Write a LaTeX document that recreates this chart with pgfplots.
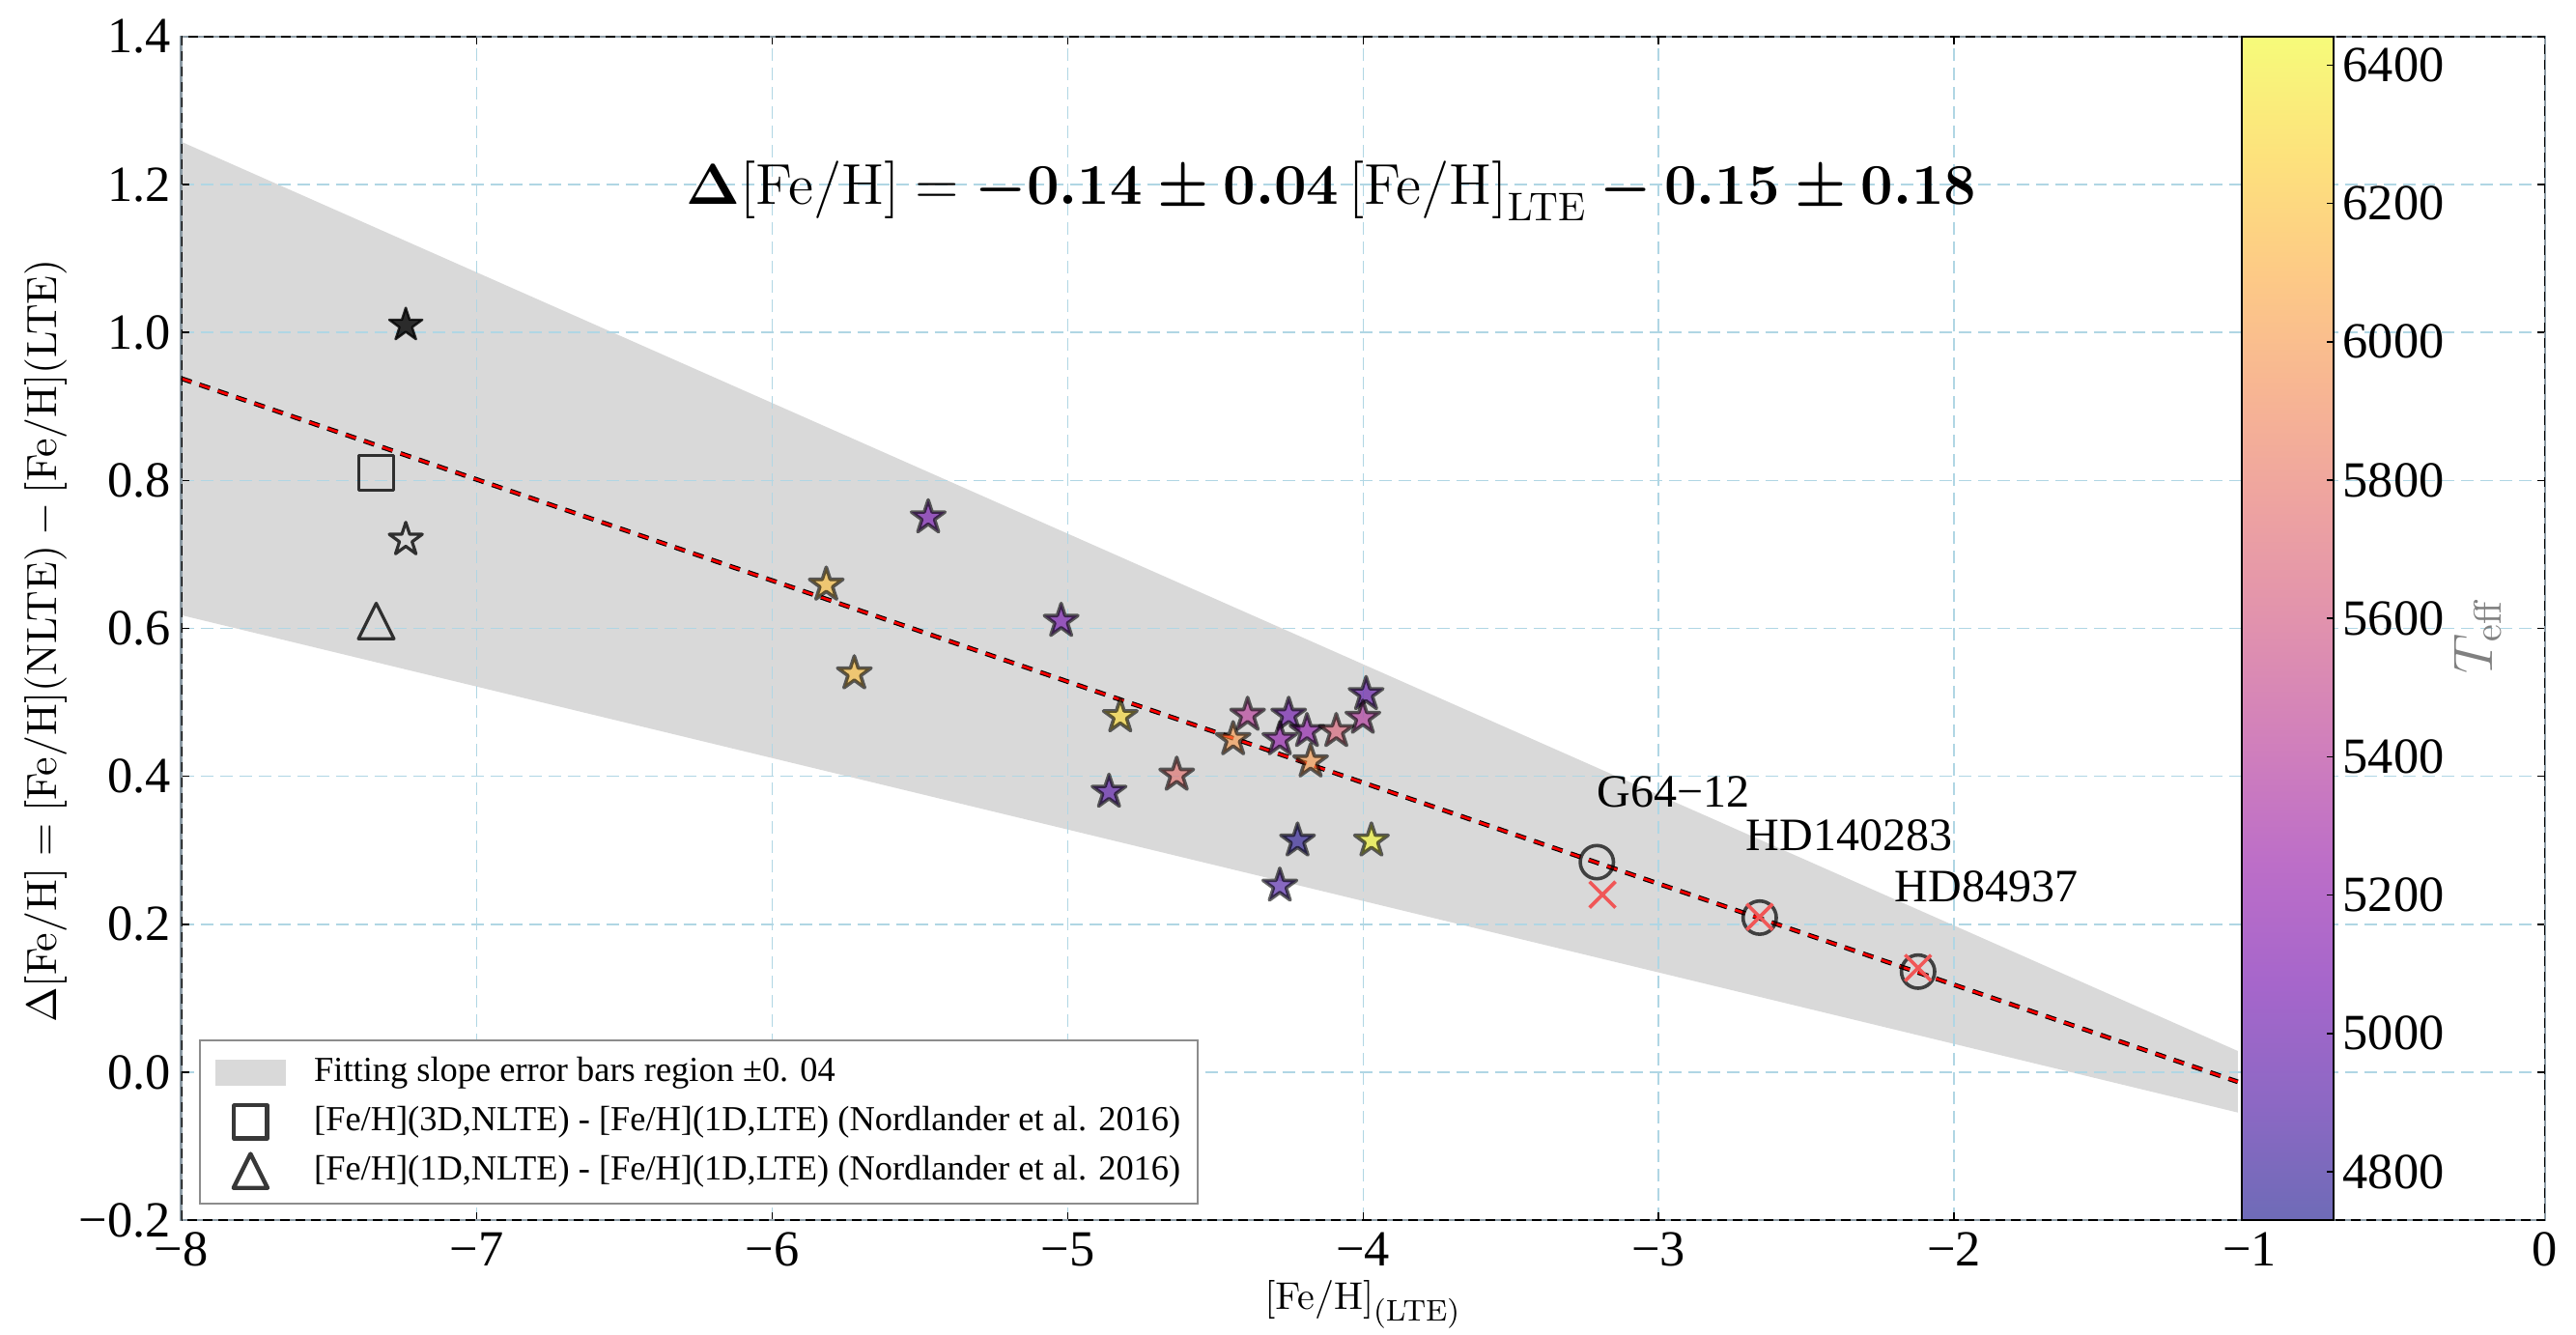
\documentclass[border=0pt]{standalone}
\usepackage{amsmath}
\usepackage{graphicx}
\usepackage[no-math]{fontspec}
\newfontfamily\tnr{Liberation Serif}
\usepackage{pgfplots}
\usepackage{pgfplotstable}
\pgfplotsset{compat=1.18}

\definecolor{bandgray}{RGB}{217,217,217}
\definecolor{gridblue}{RGB}{176,214,228}
\definecolor{framegray}{RGB}{140,155,165}
\definecolor{crossred}{RGB}{240,87,87}

\newcommand\tickfont{\tnr\fontsize{13.1}{16}\selectfont}

% filled and open five-pointed stars, and an upward triangle
\pgfdeclareplotmark{fstar}{%
  \pgfpathmoveto{\pgfqpointpolar{90}{\pgfplotmarksize}}%
  \pgfpathlineto{\pgfqpointpolar{126}{0.382\pgfplotmarksize}}%
  \pgfpathlineto{\pgfqpointpolar{162}{\pgfplotmarksize}}%
  \pgfpathlineto{\pgfqpointpolar{198}{0.382\pgfplotmarksize}}%
  \pgfpathlineto{\pgfqpointpolar{234}{\pgfplotmarksize}}%
  \pgfpathlineto{\pgfqpointpolar{270}{0.382\pgfplotmarksize}}%
  \pgfpathlineto{\pgfqpointpolar{306}{\pgfplotmarksize}}%
  \pgfpathlineto{\pgfqpointpolar{342}{0.382\pgfplotmarksize}}%
  \pgfpathlineto{\pgfqpointpolar{18}{\pgfplotmarksize}}%
  \pgfpathlineto{\pgfqpointpolar{54}{0.382\pgfplotmarksize}}%
  \pgfpathclose
  \pgfusepathqfillstroke}
\pgfdeclareplotmark{ostar}{%
  \pgfpathmoveto{\pgfqpointpolar{90}{\pgfplotmarksize}}%
  \pgfpathlineto{\pgfqpointpolar{126}{0.382\pgfplotmarksize}}%
  \pgfpathlineto{\pgfqpointpolar{162}{\pgfplotmarksize}}%
  \pgfpathlineto{\pgfqpointpolar{198}{0.382\pgfplotmarksize}}%
  \pgfpathlineto{\pgfqpointpolar{234}{\pgfplotmarksize}}%
  \pgfpathlineto{\pgfqpointpolar{270}{0.382\pgfplotmarksize}}%
  \pgfpathlineto{\pgfqpointpolar{306}{\pgfplotmarksize}}%
  \pgfpathlineto{\pgfqpointpolar{342}{0.382\pgfplotmarksize}}%
  \pgfpathlineto{\pgfqpointpolar{18}{\pgfplotmarksize}}%
  \pgfpathlineto{\pgfqpointpolar{54}{0.382\pgfplotmarksize}}%
  \pgfpathclose
  \pgfusepathqstroke}
\pgfdeclareplotmark{mtri}{%
  \pgfpathmoveto{\pgfqpoint{0pt}{\pgfplotmarksize}}%
  \pgfpathlineto{\pgfqpoint{-\pgfplotmarksize}{-\pgfplotmarksize}}%
  \pgfpathlineto{\pgfqpoint{\pgfplotmarksize}{-\pgfplotmarksize}}%
  \pgfpathclose
  \pgfusepathqstroke}

\pgfplotsset{
  colormap={plasma}{rgb255=(13,8,135) rgb255=(65,4,157) rgb255=(106,0,168)
    rgb255=(143,13,164) rgb255=(177,42,144) rgb255=(204,71,120) rgb255=(225,100,98)
    rgb255=(242,132,75) rgb255=(252,166,54) rgb255=(252,206,37) rgb255=(240,249,33)},
  colormap={plasmalight}{rgb255=(110,107,183) rgb255=(141,104,196) rgb255=(166,102,203)
    rgb255=(188,110,200) rgb255=(208,127,188) rgb255=(224,145,174) rgb255=(237,162,161)
    rgb255=(247,181,147) rgb255=(253,202,134) rgb255=(253,226,124) rgb255=(246,251,122)},
}

% stars: [Fe/H]_LTE, Delta[Fe/H], Teff
\pgfplotstableread{
x      y      T
-5.472 0.750  5070
-5.817 0.659  6185
-5.722 0.539  6185
-5.022 0.610  5070
-4.822 0.481  6305
-4.860 0.379  4935
-4.631 0.402  5760
-4.391 0.483  5415
-4.440 0.450  6010
-4.252 0.483  5040
-4.282 0.450  5210
-4.190 0.461  5210
-4.178 0.420  6010
-4.091 0.461  5670
-3.990 0.511  4990
-4.001 0.479  5380
-4.222 0.313  4765
-4.282 0.252  4870
-3.972 0.313  6430
}\starsdata

\begin{document}
\begin{tikzpicture}
\begin{axis}[
  set layers,
  at={(0,0)}, anchor=south west,
  scale only axis, width=611.8pt, height=306.25pt,
  xmin=-8, xmax=0, ymin=-0.2, ymax=1.4,
  xtick={-8,-7,-6,-5,-4,-3,-2,-1,0},
  xticklabels={−8,−7,−6,−5,−4,−3,−2,−1,0},
  ytick={-0.2,0,0.2,0.4,0.6,0.8,1.0,1.2,1.4},
  yticklabels={−0.2,0.0,0.2,0.4,0.6,0.8,1.0,1.2,1.4},
  tick label style={font=\tickfont},
  xticklabel style={inner sep=0pt, yshift=-3pt},
  yticklabel style={inner sep=0pt, xshift=-2.5pt},
  tick align=inside, major tick length=2pt,
  tick style={black, line width=0.4pt},
  axis line style={framegray, line width=0.6pt},
  grid=major,
  major grid style={gridblue, line width=0.4pt, dash pattern=on 3.3pt off 1.7pt},
  xlabel={$\mathrm{[Fe/H]}_{\mbox{\fontsize{7.7}{9}\selectfont(LTE)}}$},
  xlabel style={at={(axis description cs:0.5,-0.0505)}, anchor=north, inner sep=0pt,
    font=\fontsize{10}{12}\selectfont},
  ylabel={$\Delta\mathrm{[Fe/H]} = \mathrm{[Fe/H](NLTE)} - \mathrm{[Fe/H](LTE)}$},
  ylabel style={at={(axis description cs:-0.0481,0.4895)}, anchor=south, inner sep=0pt,
    font=\fontsize{10.8}{13}\selectfont},
  colormap name=plasma,
  point meta min=4730, point meta max=6441,
  colorbar,
  colorbar/width=23.75pt,
  colorbar style={
    colormap name=plasmalight,
    at={(parent axis.north east)}, anchor=north east, xshift=-63.25pt,
    ytick={4800,5000,5200,5400,5600,5800,6000,6200,6400},
    yticklabels={4800,5000,5200,5400,5600,5800,6000,6200,6400},
    yticklabel style={font=\tickfont, inner sep=0pt, xshift=2.2pt},
    ytick pos=right, yticklabel pos=right,
    tick align=inside, major tick length=1.75pt,
    tick style={black, line width=0.4pt},
    axis line style={black, line width=0.6pt},
    ylabel={$T_{\mathrm{eff}}$},
    ylabel style={at={(rel axis cs:2.568,0.494)}, anchor=center, inner sep=0pt,
      text=black!50, font=\fontsize{14}{16}\selectfont},
  },
  legend style={at={(axis description cs:0.0075,0.0135)}, anchor=south west,
    draw=black!45, line width=0.5pt, fill=white,
    font=\tnr\fontsize{9.1}{11}\selectfont,
    inner xsep=3pt, inner ysep=2pt,
    nodes={inner sep=1.5pt, text height=0.72em, text depth=0.25em}},
  legend cell align=left,
]

% slope uncertainty band around the fit
\addplot[fill=bandgray, draw=none, on layer=axis background,
  legend image code/.code={
    \fill[bandgray] (0.5pt,-3.35pt) rectangle (18.9pt,3.35pt);
    \path (0pt,0pt) (24.25pt,0pt);}]
  coordinates {(-8,1.258) (-1.04,0.0287) (-1.04,-0.0545) (-8,0.618)};
\addlegendentry{Fitting slope error bars region ±0. 04}

% Nordlander et al. (2016) values for the most iron-poor star
\addplot[only marks, mark=square, mark size=4.5pt, line width=0.8pt,
  mark options={draw=black, draw opacity=0.78, line join=round},
  legend image code/.code={
    \draw[black, line width=1.1pt, line join=round] plot[mark=square, mark size=4.3pt]
      coordinates {(9.7pt,0pt)};
    \path (0pt,0pt) (24.25pt,0pt);}]
  coordinates {(-7.340,0.810)};
\addlegendentry{[Fe/H](3D,NLTE) - [Fe/H](1D,LTE) (Nordlander et al. 2016)}

\addplot[only marks, mark=mtri, mark size=4.6pt, line width=0.8pt,
  mark options={draw=black, draw opacity=0.78, line join=round},
  legend image code/.code={
    \draw[black, line width=1.1pt, line join=round] plot[mark=mtri, mark size=4.4pt]
      coordinates {(9.7pt,0pt)};
    \path (0pt,0pt) (24.25pt,0pt);}]
  coordinates {(-7.340,0.610)};
\addlegendentry{[Fe/H](1D,NLTE) - [Fe/H](1D,LTE) (Nordlander et al. 2016)}

\addplot[forget plot, only marks, mark=fstar, mark size=4.5pt, line width=0.6pt,
  mark options={draw=black, fill=black, opacity=0.8, line join=round}]
  coordinates {(-7.240,1.010)};
\addplot[forget plot, only marks, mark=ostar, mark size=4.5pt, line width=0.8pt,
  mark options={draw=black, draw opacity=0.78, line join=round}]
  coordinates {(-7.240,0.720)};

% stars coloured by effective temperature
\addplot[forget plot, scatter, only marks, mark=fstar, mark size=4.55pt, line width=0.9pt,
  point meta=explicit,
  scatter/use mapped color={draw=black, draw opacity=0.6, fill=mapped color, fill opacity=0.6},
  mark options={line join=round}]
  table[x=x, y=y, meta=T] {\starsdata};

% benchmark stars
\addplot[forget plot, only marks, mark=o, mark size=4.3pt, line width=0.9pt,
  mark options={draw=black, draw opacity=0.7}]
  coordinates {(-3.209,0.284) (-2.658,0.209) (-2.122,0.136)};
\addplot[forget plot, only marks, mark=x, mark size=4.75pt, line width=0.9pt,
  mark options={draw=crossred}]
  coordinates {(-3.190,0.240) (-2.658,0.210) (-2.122,0.141)};

% linear fit
\addplot[forget plot, black, line width=1.2pt, dash pattern=on 2.8pt off 2.2pt]
  coordinates {(-8,0.938) (-1.04,-0.013)};
\addplot[forget plot, red, line width=0.65pt, dash pattern=on 2.8pt off 2.2pt]
  coordinates {(-8,0.938) (-1.04,-0.013)};

\node[anchor=base, font=\tnr\fontsize{12}{14}\selectfont] at (axis cs:-2.950,0.359) {G64−12};
\node[anchor=base, font=\tnr\fontsize{12}{14}\selectfont] at (axis cs:-2.355,0.300) {HD140283};
\node[anchor=base, font=\tnr\fontsize{12}{14}\selectfont] at (axis cs:-1.891,0.231) {HD84937};

\node[anchor=base, font=\fontsize{14.4}{17}\selectfont] at (axis cs:-4.107,1.173)
  {\scalebox{1.035}{$\boldsymbol{\Delta}\mathrm{[Fe/H]} = \boldsymbol{-0.14\pm0.04}\,\mathrm{[Fe/H]}_{\mathrm{LTE}}
   \mathbin{\boldsymbol{-}} \boldsymbol{0.15\pm0.18}$}};

\draw[black, line width=0.45pt, dash pattern=on 2.5pt off 1.5pt]
  (rel axis cs:0,0) rectangle (rel axis cs:1,1);
\end{axis}
\pgfresetboundingbox
\path[use as bounding box] (-46.9pt,-29.5pt) rectangle (619.8pt,315.75pt);
\end{tikzpicture}
\end{document}
